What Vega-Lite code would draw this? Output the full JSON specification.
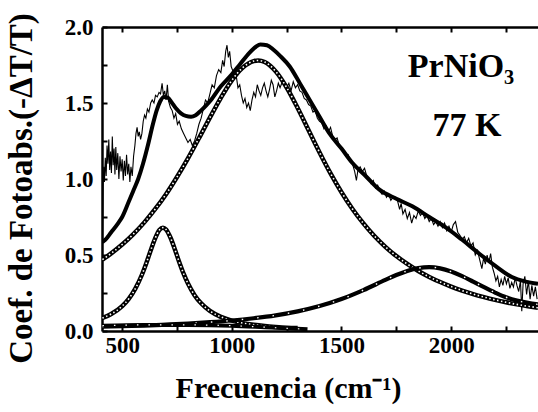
{
"$schema": "https://vega.github.io/schema/vega-lite/v6.json",
"width": 436, "height": 304,
"autosize": "none",
"padding": {"left": 102, "top": 27, "right": 0, "bottom": 81},
"background": "white",
"config": {
  "view": {"stroke": null},
  "font": "Liberation Serif",
  "axis": {"grid": false, "domainColor": "black", "domainWidth": 2.5, "tickColor": "black", "tickWidth": 2, "tickSize": -5,
           "labelFont": "Liberation Serif", "labelFontWeight": "bold", "labelFontSize": 23, "labelColor": "black",
           "titleFont": "Liberation Serif", "titleFontWeight": "bold", "titleColor": "black"}
},
"datasets": {
"datos": [
{"x":410,"y":0.56},{"x":413,"y":0.95},{"x":416,"y":1.08},{"x":419,"y":0.98},{"x":423,"y":1.14},{"x":427,"y":1.02},{"x":431,"y":1.22},{"x":435,"y":1.10},{"x":439,"y":1.26},{"x":443,"y":1.06},{"x":447,"y":1.18},{"x":451,"y":1.04},{"x":455,"y":1.28},{"x":459,"y":1.09},{"x":463,"y":1.20},{"x":467,"y":1.03},{"x":471,"y":1.21},{"x":475,"y":1.06},{"x":480,"y":1.17},{"x":485,"y":1.00},{"x":490,"y":1.15},{"x":495,"y":1.05},{"x":500,"y":1.13},{"x":505,"y":0.99},{"x":510,"y":1.12},{"x":515,"y":1.02},{"x":520,"y":1.16},{"x":525,"y":1.03},{"x":530,"y":1.10},{"x":535,"y":0.98},{"x":540,"y":1.08},{"x":546,"y":1.02},{"x":552,"y":1.15},{"x":558,"y":1.22},{"x":563,"y":1.30},{"x":568,"y":1.34},{"x":573,"y":1.28},{"x":578,"y":1.31},{"x":584,"y":1.26},{"x":590,"y":1.30},{"x":596,"y":1.38},{"x":602,"y":1.42},{"x":608,"y":1.40},{"x":615,"y":1.46},{"x":622,"y":1.44},{"x":630,"y":1.50},{"x":637,"y":1.52},{"x":645,"y":1.50},{"x":652,"y":1.55},{"x":660,"y":1.54},{"x":668,"y":1.57},{"x":675,"y":1.56},{"x":682,"y":1.63},{"x":688,"y":1.55},{"x":694,"y":1.58},{"x":700,"y":1.52},{"x":706,"y":1.62},{"x":712,"y":1.51},{"x":720,"y":1.47},{"x":728,"y":1.45},{"x":736,"y":1.40},{"x":744,"y":1.43},{"x":752,"y":1.36},{"x":760,"y":1.38},{"x":770,"y":1.33},{"x":780,"y":1.30},{"x":790,"y":1.27},{"x":800,"y":1.24},{"x":810,"y":1.26},{"x":820,"y":1.22},{"x":830,"y":1.25},{"x":840,"y":1.30},{"x":850,"y":1.36},{"x":860,"y":1.40},{"x":870,"y":1.46},{"x":880,"y":1.52},{"x":890,"y":1.50},{"x":900,"y":1.56},{"x":910,"y":1.62},{"x":920,"y":1.60},{"x":930,"y":1.68},{"x":940,"y":1.72},{"x":950,"y":1.70},{"x":958,"y":1.78},{"x":965,"y":1.74},{"x":972,"y":1.84},{"x":978,"y":1.88},{"x":984,"y":1.80},{"x":990,"y":1.84},{"x":997,"y":1.74},{"x":1005,"y":1.71},{"x":1012,"y":1.66},{"x":1020,"y":1.68},{"x":1028,"y":1.60},{"x":1036,"y":1.62},{"x":1044,"y":1.55},{"x":1052,"y":1.50},{"x":1060,"y":1.53},{"x":1068,"y":1.47},{"x":1076,"y":1.50},{"x":1084,"y":1.45},{"x":1092,"y":1.52},{"x":1100,"y":1.57},{"x":1108,"y":1.54},{"x":1116,"y":1.62},{"x":1124,"y":1.58},{"x":1132,"y":1.55},{"x":1140,"y":1.60},{"x":1148,"y":1.63},{"x":1156,"y":1.58},{"x":1164,"y":1.54},{"x":1172,"y":1.59},{"x":1180,"y":1.65},{"x":1188,"y":1.62},{"x":1196,"y":1.54},{"x":1204,"y":1.58},{"x":1212,"y":1.63},{"x":1220,"y":1.60},{"x":1230,"y":1.64},{"x":1240,"y":1.62},{"x":1250,"y":1.60},{"x":1260,"y":1.63},{"x":1270,"y":1.58},{"x":1280,"y":1.64},{"x":1290,"y":1.60},{"x":1300,"y":1.62},{"x":1310,"y":1.58},{"x":1320,"y":1.57},{"x":1330,"y":1.53},{"x":1340,"y":1.52},{"x":1350,"y":1.49},{"x":1360,"y":1.48},{"x":1370,"y":1.44},{"x":1380,"y":1.45},{"x":1390,"y":1.40},{"x":1400,"y":1.38},{"x":1410,"y":1.37},{"x":1420,"y":1.33},{"x":1430,"y":1.35},{"x":1440,"y":1.31},{"x":1450,"y":1.34},{"x":1460,"y":1.28},{"x":1470,"y":1.26},{"x":1480,"y":1.27},{"x":1490,"y":1.22},{"x":1500,"y":1.20},{"x":1510,"y":1.18},{"x":1520,"y":1.15},{"x":1530,"y":1.16},{"x":1540,"y":1.12},{"x":1550,"y":1.10},{"x":1560,"y":1.05},{"x":1568,"y":0.99},{"x":1575,"y":1.06},{"x":1585,"y":1.08},{"x":1595,"y":1.05},{"x":1605,"y":1.07},{"x":1615,"y":1.02},{"x":1625,"y":1.00},{"x":1635,"y":0.97},{"x":1645,"y":0.99},{"x":1655,"y":0.94},{"x":1665,"y":0.96},{"x":1675,"y":0.92},{"x":1685,"y":0.90},{"x":1695,"y":0.92},{"x":1705,"y":0.88},{"x":1715,"y":0.90},{"x":1725,"y":0.86},{"x":1735,"y":0.88},{"x":1745,"y":0.88},{"x":1755,"y":0.86},{"x":1765,"y":0.80},{"x":1772,"y":0.84},{"x":1780,"y":0.77},{"x":1790,"y":0.80},{"x":1800,"y":0.74},{"x":1810,"y":0.78},{"x":1820,"y":0.71},{"x":1830,"y":0.76},{"x":1840,"y":0.74},{"x":1850,"y":0.79},{"x":1860,"y":0.76},{"x":1870,"y":0.78},{"x":1880,"y":0.74},{"x":1890,"y":0.76},{"x":1900,"y":0.72},{"x":1910,"y":0.74},{"x":1920,"y":0.70},{"x":1930,"y":0.72},{"x":1940,"y":0.69},{"x":1950,"y":0.72},{"x":1960,"y":0.68},{"x":1970,"y":0.71},{"x":1980,"y":0.66},{"x":1990,"y":0.69},{"x":2000,"y":0.65},{"x":2010,"y":0.70},{"x":2020,"y":0.72},{"x":2030,"y":0.65},{"x":2040,"y":0.63},{"x":2050,"y":0.60},{"x":2060,"y":0.62},{"x":2070,"y":0.58},{"x":2080,"y":0.61},{"x":2090,"y":0.56},{"x":2100,"y":0.58},{"x":2110,"y":0.50},{"x":2120,"y":0.53},{"x":2130,"y":0.47},{"x":2140,"y":0.41},{"x":2148,"y":0.48},{"x":2156,"y":0.44},{"x":2164,"y":0.50},{"x":2172,"y":0.45},{"x":2180,"y":0.51},{"x":2188,"y":0.42},{"x":2196,"y":0.38},{"x":2204,"y":0.33},{"x":2212,"y":0.36},{"x":2220,"y":0.29},{"x":2228,"y":0.34},{"x":2236,"y":0.30},{"x":2244,"y":0.36},{"x":2252,"y":0.31},{"x":2260,"y":0.35},{"x":2268,"y":0.28},{"x":2276,"y":0.32},{"x":2284,"y":0.29},{"x":2292,"y":0.35},{"x":2300,"y":0.30},{"x":2308,"y":0.26},{"x":2316,"y":0.33},{"x":2322,"y":0.13},{"x":2328,"y":0.31},{"x":2336,"y":0.36},{"x":2344,"y":0.24},{"x":2352,"y":0.33},{"x":2360,"y":0.21},{"x":2368,"y":0.30},{"x":2376,"y":0.23},{"x":2384,"y":0.29},{"x":2392,"y":0.21}
],
"ajuste": [
{"x":410,"y":0.585},{"x":423,"y":0.60},{"x":450,"y":0.65},{"x":482,"y":0.71},{"x":500,"y":0.75},{"x":527,"y":0.84},{"x":550,"y":0.92},{"x":573,"y":1.00},{"x":595,"y":1.10},{"x":617,"y":1.22},{"x":640,"y":1.36},{"x":657,"y":1.45},{"x":673,"y":1.51},{"x":690,"y":1.54},{"x":708,"y":1.535},{"x":725,"y":1.505},{"x":745,"y":1.465},{"x":768,"y":1.432},{"x":790,"y":1.415},{"x":814,"y":1.41},{"x":835,"y":1.42},{"x":859,"y":1.45},{"x":880,"y":1.48},{"x":905,"y":1.52},{"x":950,"y":1.61},{"x":995,"y":1.68},{"x":1040,"y":1.76},{"x":1080,"y":1.83},{"x":1110,"y":1.87},{"x":1130,"y":1.885},{"x":1160,"y":1.88},{"x":1190,"y":1.85},{"x":1220,"y":1.81},{"x":1264,"y":1.74},{"x":1310,"y":1.63},{"x":1355,"y":1.52},{"x":1400,"y":1.41},{"x":1445,"y":1.30},{"x":1500,"y":1.20},{"x":1550,"y":1.105},{"x":1610,"y":1.02},{"x":1673,"y":0.93},{"x":1750,"y":0.87},{"x":1823,"y":0.82},{"x":1900,"y":0.75},{"x":1977,"y":0.68},{"x":2050,"y":0.60},{"x":2127,"y":0.51},{"x":2200,"y":0.43},{"x":2277,"y":0.355},{"x":2340,"y":0.325},{"x":2396,"y":0.31}
],
"banda1120": [
{"x":410,"y":0.470},{"x":450,"y":0.511},{"x":500,"y":0.569},{"x":550,"y":0.636},{"x":600,"y":0.713},{"x":650,"y":0.801},{"x":700,"y":0.900},{"x":750,"y":1.013},{"x":800,"y":1.136},{"x":850,"y":1.268},{"x":900,"y":1.404},{"x":950,"y":1.534},{"x":1000,"y":1.649},{"x":1050,"y":1.733},{"x":1100,"y":1.776},{"x":1120,"y":1.780},{"x":1150,"y":1.770},{"x":1200,"y":1.708},{"x":1250,"y":1.602},{"x":1300,"y":1.467},{"x":1350,"y":1.321},{"x":1400,"y":1.175},{"x":1450,"y":1.037},{"x":1500,"y":0.913},{"x":1550,"y":0.803},{"x":1600,"y":0.708},{"x":1650,"y":0.625},{"x":1700,"y":0.554},{"x":1750,"y":0.493},{"x":1800,"y":0.441},{"x":1850,"y":0.395},{"x":1900,"y":0.356},{"x":1950,"y":0.322},{"x":2000,"y":0.292},{"x":2050,"y":0.266},{"x":2100,"y":0.243},{"x":2150,"y":0.223},{"x":2200,"y":0.205},{"x":2250,"y":0.189},{"x":2300,"y":0.175},{"x":2350,"y":0.163},{"x":2396,"y":0.153}
],
"banda686": [
{"x":410,"y":0.086},{"x":450,"y":0.112},{"x":500,"y":0.164},{"x":530,"y":0.212},{"x":560,"y":0.279},{"x":590,"y":0.370},{"x":610,"y":0.446},{"x":630,"y":0.530},{"x":650,"y":0.608},{"x":670,"y":0.665},{"x":686,"y":0.680},{"x":700,"y":0.668},{"x":720,"y":0.615},{"x":740,"y":0.538},{"x":760,"y":0.454},{"x":780,"y":0.377},{"x":800,"y":0.312},{"x":830,"y":0.236},{"x":860,"y":0.182},{"x":900,"y":0.132},{"x":950,"y":0.093},{"x":1000,"y":0.068},{"x":1050,"y":0.052},{"x":1100,"y":0.041},{"x":1150,"y":0.033},{"x":1200,"y":0.027},{"x":1250,"y":0.022},{"x":1300,"y":0.019}
],
"banda1900": [
{"x":410,"y":0.028},{"x":500,"y":0.032},{"x":600,"y":0.036},{"x":700,"y":0.042},{"x":800,"y":0.049},{"x":900,"y":0.058},{"x":1000,"y":0.069},{"x":1100,"y":0.084},{"x":1200,"y":0.103},{"x":1300,"y":0.129},{"x":1400,"y":0.164},{"x":1500,"y":0.210},{"x":1600,"y":0.269},{"x":1700,"y":0.336},{"x":1750,"y":0.368},{"x":1800,"y":0.395},{"x":1850,"y":0.4135},{"x":1900,"y":0.420},{"x":1950,"y":0.412},{"x":2000,"y":0.391},{"x":2050,"y":0.361},{"x":2100,"y":0.325},{"x":2150,"y":0.288},{"x":2200,"y":0.253},{"x":2250,"y":0.222},{"x":2300,"y":0.200},{"x":2350,"y":0.185},{"x":2396,"y":0.175}
],
"fondo": [
{"x":410,"y":0.035},{"x":600,"y":0.040},{"x":800,"y":0.040},{"x":1000,"y":0.035},{"x":1150,"y":0.025},{"x":1250,"y":0.018},{"x":1345,"y":0.012}
],
"rotulos": [
{"x":2045,"y":1.737,"t":"PrNiO₃"},{"x":2072,"y":1.35,"t":"77 K"}
]
},
"resolve": {"axis": {"x": "independent", "y": "independent"}},
"layer": [
{"data": {"name": "datos"}, "mark": {"type": "line", "color": "black", "strokeWidth": 1.1, "clip": true},
 "encoding": {
  "x": {"field": "x", "type": "quantitative", "scale": {"domain": [408, 2396], "nice": false, "zero": false},
        "axis": {"orient": "bottom", "values": [500,750,1000,1250,1500,1750,2000,2250], "labelExpr": "datum.value % 500 == 0 ? datum.label : ''", "format": "d", "labelPadding": 8,
                 "title": "Frecuencia (cm⁻¹)", "titleFontSize": 30, "titleX": 186, "titleY": 57, "titleBaseline": "middle", "titleAlign": "center"}},
  "y": {"field": "y", "type": "quantitative", "scale": {"domain": [0, 2], "nice": false},
        "axis": {"orient": "left", "values": [0,0.25,0.5,0.75,1,1.25,1.5,1.75,2], "labelExpr": "datum.value % 0.5 == 0 ? datum.label : ''", "format": ".1f", "labelPadding": 14,
                 "title": "Coef. de Fotoabs.(-ΔT/T)", "titleFontSize": 33, "titleX": -81, "titleY": 161, "titleAngle": 270, "titleBaseline": "middle", "titleAlign": "center"}}
 }},
{"data": {"name": "ajuste"}, "mark": {"type": "line", "color": "black", "strokeWidth": 4, "interpolate": "monotone", "clip": true},
 "encoding": {
  "x": {"field": "x", "type": "quantitative", "axis": {"orient": "top", "values": [500,750,1000,1250,1500,1750,2000,2250], "labels": false, "title": null}},
  "y": {"field": "y", "type": "quantitative", "axis": null}
 }},
{"data": {"name": "banda1120"}, "mark": {"type": "line", "color": "black", "strokeWidth": 4.5, "interpolate": "monotone", "clip": true},
 "encoding": {"x": {"field": "x", "type": "quantitative", "axis": null}, "y": {"field": "y", "type": "quantitative", "axis": null}}},
{"data": {"name": "banda1120"}, "mark": {"type": "line", "color": "white", "strokeWidth": 1.6, "strokeDash": [1.5, 2.5], "interpolate": "monotone", "clip": true},
 "encoding": {"x": {"field": "x", "type": "quantitative", "axis": null}, "y": {"field": "y", "type": "quantitative", "axis": null}}},
{"data": {"name": "banda686"}, "mark": {"type": "line", "color": "black", "strokeWidth": 4.5, "interpolate": "monotone", "clip": true},
 "encoding": {"x": {"field": "x", "type": "quantitative", "axis": null}, "y": {"field": "y", "type": "quantitative", "axis": null}}},
{"data": {"name": "banda686"}, "mark": {"type": "line", "color": "white", "strokeWidth": 1.6, "strokeDash": [1.5, 2.5], "interpolate": "monotone", "clip": true},
 "encoding": {"x": {"field": "x", "type": "quantitative", "axis": null}, "y": {"field": "y", "type": "quantitative", "axis": null}}},
{"data": {"name": "banda1900"}, "mark": {"type": "line", "color": "black", "strokeWidth": 4.2, "interpolate": "monotone", "clip": true},
 "encoding": {"x": {"field": "x", "type": "quantitative", "axis": null}, "y": {"field": "y", "type": "quantitative", "axis": null}}},
{"data": {"name": "banda1900"}, "mark": {"type": "line", "color": "white", "strokeWidth": 1.4, "strokeDash": [1.5, 14], "interpolate": "monotone", "clip": true},
 "encoding": {"x": {"field": "x", "type": "quantitative", "axis": null}, "y": {"field": "y", "type": "quantitative", "axis": null}}},
{"data": {"name": "fondo"}, "mark": {"type": "line", "color": "black", "strokeWidth": 4, "interpolate": "monotone", "clip": true},
 "encoding": {"x": {"field": "x", "type": "quantitative", "axis": null}, "y": {"field": "y", "type": "quantitative", "axis": null}}},
{"data": {"name": "fondo"}, "mark": {"type": "line", "color": "white", "strokeWidth": 1.2, "strokeDash": [1.5, 10], "interpolate": "monotone", "clip": true},
 "encoding": {"x": {"field": "x", "type": "quantitative", "axis": null}, "y": {"field": "y", "type": "quantitative", "axis": null}}},
{"data": {"name": "rotulos"}, "mark": {"type": "text", "font": "Liberation Serif", "fontWeight": "bold", "fontSize": 34, "color": "black", "align": "center", "baseline": "middle"},
 "encoding": {"x": {"field": "x", "type": "quantitative", "axis": null}, "y": {"field": "y", "type": "quantitative", "axis": null}, "text": {"field": "t"}}}
]
}
